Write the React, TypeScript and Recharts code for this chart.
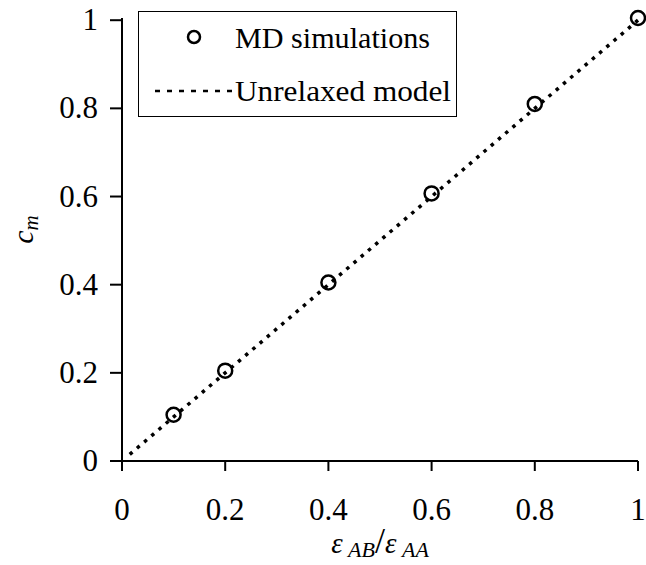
import { ComposedChart, Line, Scatter, XAxis, YAxis, Legend } from 'recharts'

const mdX = [0.1, 0.2, 0.4, 0.6, 0.8, 1.0]
const mdY = [0.105, 0.205, 0.405, 0.607, 0.81, 1.005]
const modelX = [0.015, 0.1, 0.2, 0.4, 0.6, 0.8, 1.0]
const modelY = [0.015, 0.1, 0.2, 0.4, 0.6, 0.8, 1.0]
const ticks = [0, 0.2, 0.4, 0.6, 0.8, 1]

const mdData = mdX.map((x, i) => ({ x, y: mdY[i] }))
const modelData = modelX.map((x, i) => ({ x, y: modelY[i] }))

const FONT = '"Liberation Serif", "Times New Roman", serif'

const fmt = (v: number) => (v === 0 || v === 1 ? String(v) : v.toFixed(1))

const XTick = ({ x, y, payload }: any) => (
  <text x={x} y={y + 47} textAnchor="middle" fontFamily={FONT} fontSize={31} fill="#000">
    {fmt(payload.value)}
  </text>
)

const YTick = ({ x, y, payload }: any) => (
  <text x={x} y={y + 10} textAnchor="end" fontFamily={FONT} fontSize={31} fill="#000">
    {fmt(payload.value)}
  </text>
)

const LegendBox = () => (
  <svg width={320} height={107} style={{ display: 'block' }}>
    <rect x={0.5} y={0.5} width={318} height={105} fill="#fff" stroke="#000" strokeWidth={1} />
    <circle cx={56} cy={26} r={6} fill="none" stroke="#000" strokeWidth={2.5} />
    <text x={97} y={37} fontFamily={FONT} fontSize={30} fill="#000" textLength={195} lengthAdjust="spacingAndGlyphs">
      MD simulations
    </text>
    <line x1={17} y1={80} x2={94} y2={80} stroke="#000" strokeWidth={2.5} strokeDasharray="5 7" />
    <text x={97} y={90} fontFamily={FONT} fontSize={30} fill="#000" textLength={216} lengthAdjust="spacingAndGlyphs">
      Unrelaxed model
    </text>
  </svg>
)

const XLabel = ({ viewBox }: any) => {
  const cx = viewBox.x + viewBox.width / 2
  return (
    <text x={cx} y={553} textAnchor="middle" fontFamily={FONT} fontSize={29} fontStyle="italic" fill="#000">
      <tspan>ε</tspan>
      <tspan fontSize={22} dy={4}> AB</tspan>
      <tspan fontSize={36} dy={-4} fontStyle="normal">/</tspan>
      <tspan>ε</tspan>
      <tspan fontSize={22} dy={4}> AA</tspan>
    </text>
  )
}

const YLabel = ({ viewBox }: any) => {
  const cy = viewBox.y + viewBox.height / 2
  return (
    <text x={0} y={0} transform={`translate(33, ${cy - 10}) rotate(-90)`} textAnchor="middle" fontFamily={FONT} fontSize={30} fontStyle="italic" fill="#000">
      <tspan>c</tspan>
      <tspan fontSize={21} dy={5}>m</tspan>
    </text>
  )
}

export default function App() {
  return (
    <div style={{ position: 'absolute', left: 0, top: 0 }}>
      <ComposedChart width={646} height={565} margin={{ top: 18, right: 8, bottom: 34, left: 52 }}>
        <XAxis
          dataKey="x"
          type="number"
          domain={[0, 1]}
          ticks={ticks}
          height={70}
          stroke="#000"
          strokeWidth={2}
          tickSize={10}
          tick={<XTick />}
          label={<XLabel />}
        />
        <YAxis
          dataKey="y"
          type="number"
          domain={[0, 1]}
          ticks={ticks}
          width={70}
          stroke="#000"
          strokeWidth={2}
          tickSize={12}
          tickMargin={12}
          tick={<YTick />}
          label={<YLabel />}
        />
        <Legend
          verticalAlign="middle"
          align="center"
          content={<LegendBox />}
          wrapperStyle={{ left: 138, top: 11, width: 320 }}
        />
        <Line
          data={modelData}
          dataKey="y"
          stroke="#000"
          strokeWidth={3.5}
          strokeDasharray="3.5 6"
          dot={false}
          activeDot={false}
          isAnimationActive={false}
        />
        <Scatter
          data={mdData}
          dataKey="y"
          shape={(p: any) => <circle cx={p.cx} cy={p.cy} r={7} fill="none" stroke="#000" strokeWidth={2.5} />}
          isAnimationActive={false}
        />
      </ComposedChart>
    </div>
  )
}
